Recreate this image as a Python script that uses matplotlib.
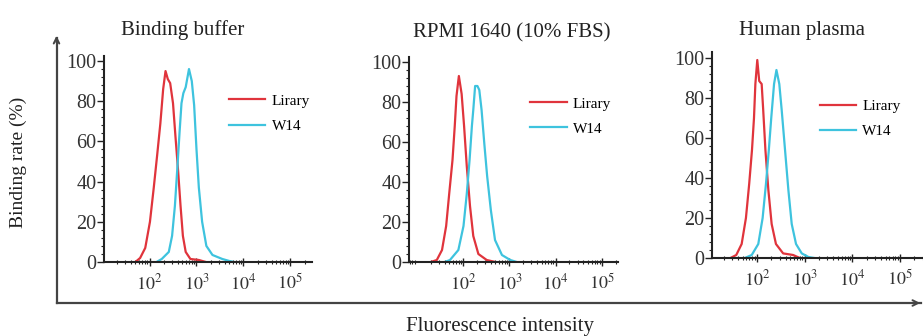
import matplotlib
matplotlib.use("Agg")
import matplotlib.pyplot as plt
from matplotlib.ticker import MultipleLocator, LogLocator, NullFormatter

plt.rcParams['font.family'] = ['Liberation Serif', 'DejaVu Serif']
plt.rcParams['mathtext.fontset'] = 'stix'

titles = ['Binding buffer', 'RPMI 1640 (10% FBS)', 'Human plasma']
series_names = ['Lirary', 'W14']
xtick_values = [1e2, 1e3, 1e4, 1e5]
xtick_labels = ['$10^2$', '$10^3$', '$10^4$', '$10^5$']
ytick_values = [0, 20, 40, 60, 80, 100]

# fluorescence intensity / binding rate (%)
buffer_lirary_x = [50, 63, 81, 102, 123, 145, 170, 195, 219, 245, 275, 316, 355,
                   407, 457, 513, 589, 741, 1122, 1585]
buffer_lirary_y = [0, 2, 7, 20, 37, 53, 69, 86, 95, 91, 89, 79, 63,
                   45, 28, 13, 5, 1.5, 1, 0]
buffer_w14_x = [141, 182, 257, 302, 347, 389, 437, 479, 525, 589, 692, 794, 891,
                1000, 1122, 1318, 1622, 2188, 3548, 5012, 6310]
buffer_w14_y = [0, 1.5, 5, 13, 28, 46, 65, 79, 84, 87, 96, 90, 78,
                56, 37, 20, 8, 3.5, 1.5, 0.5, 0]

rpmi_lirary_x = [20, 27, 35, 43, 50, 59, 66, 72, 81, 93, 105, 120, 141, 166,
                 214, 324, 500]
rpmi_lirary_y = [0, 1, 6, 18, 34, 51, 68, 83, 93, 84, 68, 48, 28, 13,
                 4, 1, 0]
rpmi_w14_x = [40, 52, 79, 102, 120, 138, 155, 166, 182, 204, 224, 251, 288, 331,
              398, 490, 692, 1047, 1445]
rpmi_w14_y = [0, 1, 6, 18, 34, 51, 68, 76, 88, 88, 86, 76, 59, 43,
              26, 11, 3.5, 1, 0]

plasma_lirary_x = [28, 37, 48, 59, 69, 79, 87, 93, 102, 112, 126, 135, 151, 174,
                   204, 251, 355, 575, 794]
plasma_lirary_y = [0, 1.5, 7, 20, 37, 54, 70, 87, 99, 88.5, 87, 75, 54, 34,
                   17, 7, 2.3, 1.5, 0]
plasma_w14_x = [56, 78, 107, 132, 155, 178, 200, 229, 257, 295, 331, 389, 457,
                537, 661, 871, 1202, 1600]
plasma_w14_y = [0, 1.5, 7, 20, 37, 54, 70, 87, 94, 87, 74, 54, 34,
                17, 7, 2.3, 0.5, 0]

panels = [
    (buffer_lirary_x, buffer_lirary_y, buffer_w14_x, buffer_w14_y),
    (rpmi_lirary_x, rpmi_lirary_y, rpmi_w14_x, rpmi_w14_y),
    (plasma_lirary_x, plasma_lirary_y, plasma_w14_x, plasma_w14_y),
]

W, H = 923, 336
# pixel boxes (left, right, bottom, top), x limits in log10, y top
boxes = [(104, 312, 262, 56), (409, 618, 262, 57), (712, 923, 258, 52)]
xlims = [(1.03, 5.46), (0.83, 5.35), (1.06, 5.48)]
ytops = [102.5, 102.5, 103]
legend_anchor = [(0.60, 0.815), (0.58, 0.805), (0.51, 0.77)]
title_x = [183, 512, 802]
title_y = [30, 33, 30]

red = '#e0343c'
blue = '#3ec3de'
axis_color = '#222222'

fig = plt.figure(figsize=(W / 100, H / 100), dpi=100)

for i, (lx, ly, wx, wy) in enumerate(panels):
    l, r, b, t = boxes[i]
    ax = fig.add_axes([l / W, (H - b) / H, (r - l) / W, (b - t) / H])
    ax.plot(lx, ly, color=red, lw=1.6, label=series_names[0])
    ax.plot(wx, wy, color=blue, lw=1.6, label=series_names[1])
    ax.set_xscale('log')
    ax.set_xlim(10 ** xlims[i][0], 10 ** xlims[i][1])
    ax.set_ylim(0, ytops[i])

    for side in ['top', 'right']:
        ax.spines[side].set_visible(False)
    for side in ['left', 'bottom']:
        ax.spines[side].set_color(axis_color)
        ax.spines[side].set_linewidth(1.5)
        ax.spines[side].set_zorder(3)

    ax.set_xticks(xtick_values)
    ax.set_xticklabels(xtick_labels)
    ax.xaxis.set_minor_locator(LogLocator(base=10, subs=range(2, 10), numticks=20))
    ax.xaxis.set_minor_formatter(NullFormatter())
    ax.tick_params(axis='x', which='major', direction='inout', length=6, width=1,
                   color=axis_color, labelsize=13, labelcolor='#333333', pad=5)
    ax.tick_params(axis='x', which='minor', direction='inout', length=3, width=0.8,
                   color=axis_color)

    ax.set_yticks(ytick_values)
    ax.yaxis.set_minor_locator(MultipleLocator(4))
    ax.tick_params(axis='y', which='major', direction='out', length=5, width=1,
                   color=axis_color, labelsize=14.5, labelcolor='#333333', pad=0.5)
    ax.tick_params(axis='y', which='minor', direction='out', length=2.5, width=0.8,
                   color=axis_color)

    ax.legend(loc='upper left', bbox_to_anchor=legend_anchor[i], frameon=False,
              fontsize=11, handlelength=2.4, handletextpad=0.4, labelspacing=0.75,
              borderpad=0, borderaxespad=0)

    fig.text(title_x[i] / W, 1 - title_y[i] / H, titles[i], ha='center', va='center',
             fontsize=15, color='#222222')

# outer axis arrows
fig.add_artist(plt.Line2D([56.5 / W, 921 / W], [1 - 303 / H, 1 - 303 / H],
                          color='#444444', lw=1.6))
fig.add_artist(plt.Line2D([56.5 / W, 56.5 / W], [1 - 303 / H, 1 - 38 / H],
                          color='#444444', lw=1.6))
plt.annotate('', xy=(56.5 / W, 1 - 33 / H), xytext=(56.5 / W, 1 - 45 / H),
             xycoords='figure fraction',
             arrowprops=dict(arrowstyle='->', color='#444444', lw=1.4))
plt.annotate('', xy=(923 / W, 1 - 303 / H), xytext=(905 / W, 1 - 303 / H),
             xycoords='figure fraction',
             arrowprops=dict(arrowstyle='->', color='#444444', lw=1.4))

fig.text(18 / W, 1 - 162 / H, 'Binding rate (%)', rotation=90, ha='center',
         va='center', fontsize=14, color='#222222')
fig.text(500 / W, 1 - 327 / H, 'Fluorescence intensity', ha='center',
         va='center', fontsize=15, color='#222222')

fig.savefig('out.png', dpi=100)
